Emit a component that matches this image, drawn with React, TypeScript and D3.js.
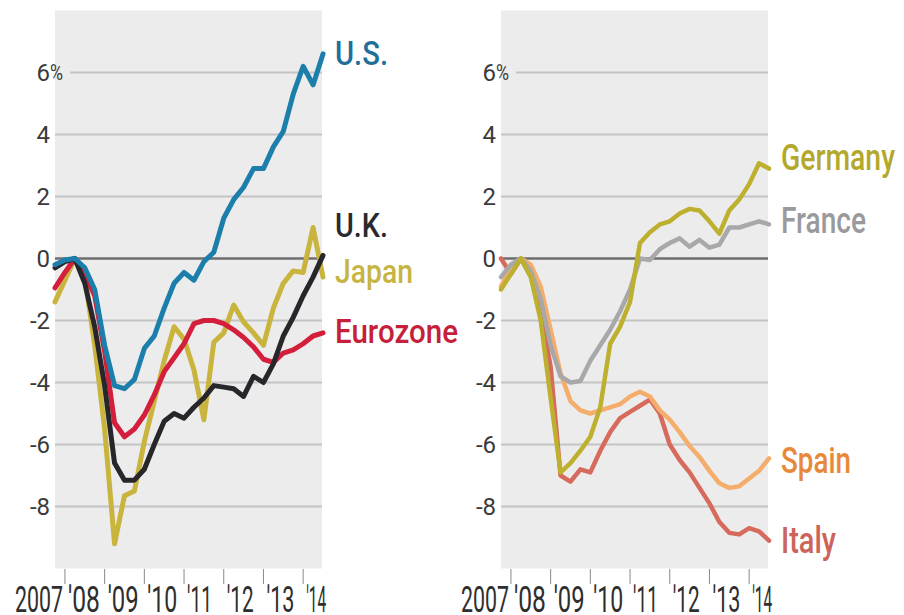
import React from "react";
import * as d3 from "d3";

const quarters = ["2007Q4","2008Q1","2008Q2","2008Q3","2008Q4","2009Q1","2009Q2","2009Q3","2009Q4","2010Q1","2010Q2","2010Q3","2010Q4","2011Q1","2011Q2","2011Q3","2011Q4","2012Q1","2012Q2","2012Q3","2012Q4","2013Q1","2013Q2","2013Q3","2013Q4","2014Q1","2014Q2","2014Q3"];

const usValues = [-0.2, -0.05, 0, -0.3, -1.0, -2.8, -4.1, -4.2, -3.9, -2.9, -2.5, -1.6, -0.8, -0.45, -0.7, -0.1, 0.2, 1.3, 1.9, 2.3, 2.9, 2.9, 3.6, 4.1, 5.3, 6.2, 5.6, 6.6];
const ukValues = [-0.3, -0.1, 0, -0.8, -2.2, -4.1, -6.6, -7.15, -7.15, -6.8, -6.0, -5.25, -5.0, -5.15, -4.8, -4.5, -4.1, -4.15, -4.2, -4.45, -3.8, -4.0, -3.4, -2.5, -1.9, -1.2, -0.6, 0.1];
const japanValues = [-1.4, -0.7, 0, -0.6, -2.8, -5.5, -9.2, -7.65, -7.5, -5.9, -4.6, -3.3, -2.2, -2.6, -3.6, -5.2, -2.7, -2.4, -1.5, -2.05, -2.4, -2.8, -1.6, -0.8, -0.4, -0.45, 1.0, -0.6];
const euroValues = [-0.95, -0.45, 0, -0.5, -1.2, -3.0, -5.3, -5.75, -5.5, -5.05, -4.4, -3.65, -3.2, -2.75, -2.1, -2.0, -2.0, -2.1, -2.3, -2.55, -2.85, -3.25, -3.35, -3.05, -2.95, -2.75, -2.5, -2.4];

const germanyValues = [-1.0, -0.5, 0, -0.6, -2.0, -4.5, -6.9, -6.6, -6.2, -5.75, -4.8, -2.75, -2.2, -1.4, 0.5, 0.85, 1.1, 1.2, 1.45, 1.6, 1.55, 1.2, 0.8, 1.55, 1.9, 2.4, 3.07, 2.9];
const franceValues = [-0.6, -0.2, 0, -0.4, -1.3, -2.8, -3.8, -4.0, -3.95, -3.3, -2.8, -2.3, -1.7, -1.0, 0, -0.05, 0.3, 0.5, 0.65, 0.38, 0.6, 0.35, 0.45, 1.0, 1.0, 1.1, 1.2, 1.1];
const spainValues = [-0.9, -0.3, 0, -0.2, -0.9, -2.3, -3.7, -4.6, -4.9, -5.0, -4.9, -4.8, -4.7, -4.45, -4.3, -4.45, -4.9, -5.2, -5.6, -6.05, -6.4, -6.85, -7.25, -7.4, -7.35, -7.1, -6.85, -6.45];
const italyValues = [0, -0.5, 0, -0.55, -1.7, -3.5, -7.0, -7.2, -6.8, -6.9, -6.2, -5.6, -5.15, -4.95, -4.75, -4.55, -5.0, -6.0, -6.5, -6.9, -7.4, -7.9, -8.5, -8.85, -8.9, -8.7, -8.8, -9.1];

const yTicks = [6, 4, 2, 0, -2, -4, -6, -8];
const yearTicks = [2008, 2009, 2010, 2011, 2012, 2013, 2014];
const yearLabels = ["'08", "'09", "'10", "'11", "'12", "'13", "'14"];
const firstYearLabel = "2007";

type Series = { name: string; values: number[]; color: string; labelColor: string; labelY: number; labelW: number };

const leftSeries: Series[] = [
  { name: "Japan", values: japanValues, color: "#c9b43e", labelColor: "#c6b443", labelY: 283, labelW: 78 },
  { name: "Eurozone", values: euroValues, color: "#d41f3c", labelColor: "#c61f3a", labelY: 343, labelW: 123 },
  { name: "U.K.", values: ukValues, color: "#26262b", labelColor: "#2a2a2e", labelY: 237, labelW: 53 },
  { name: "U.S.", values: usValues, color: "#1c7eab", labelColor: "#1f6f98", labelY: 65, labelW: 53 },
];

const rightSeries: Series[] = [
  { name: "Italy", values: italyValues, color: "#d66a5c", labelColor: "#cc645a", labelY: 553, labelW: 55 },
  { name: "Spain", values: spainValues, color: "#f4ad6a", labelColor: "#e8893a", labelY: 473, labelW: 70 },
  { name: "France", values: franceValues, color: "#a8a8aa", labelColor: "#9a9a9c", labelY: 233, labelW: 85 },
  { name: "Germany", values: germanyValues, color: "#bdb02e", labelColor: "#b4a82c", labelY: 170, labelW: 114 },
];

const xLabelWidths = [32, 31, 30, 25, 27, 28, 20];

function qToT(q: string) {
  const y = +q.slice(0, 4);
  const n = +q.slice(5);
  return y + (n - 1) * 0.25;
}

const times = quarters.map(qToT);

const x = d3.scaleLinear().domain([2007.75, 2014.5]).range([55, 323]);
const y = d3.scaleLinear().domain([-10, 8]).range([568.5, 10.5]);

const FONT = "Roboto, 'Open Sans', sans-serif";

function Panel({ dx, series, lineW, labelSize }: { dx: number; series: Series[]; lineW: number; labelSize: number }) {
  const line = d3
    .line<number>()
    .x((_, i) => x(times[i]))
    .y((v) => y(v))
    .curve(d3.curveLinear);
  const [x0, x1] = x.range();
  return (
    <g transform={`translate(${dx},0)`}>
      <rect x={x0} y={y(8)} width={x1 - x0 - 1} height={y(-10) - y(8)} fill="#ececec" />
      {yTicks.map((t) => (
        <g key={t}>
          <line
            x1={t === 6 ? x0 + 15 : x0}
            x2={x1 - 1}
            y1={y(t)}
            y2={y(t)}
            stroke={t === 0 ? "#6e6e6e" : "#c4c4c4"}
            strokeWidth={t === 0 ? 2.5 : 2}
          />
          <text x={x0 - 5} y={y(t)} dy="0.36em" textAnchor="end" fontSize={24} fill="#3a3a3a" fontFamily={FONT}>
            {t < 0 ? "-" + Math.abs(t) : String(t)}
          </text>
          {t === 6 && (
            <text x={x0 - 5} y={y(t)} dy="0.36em" fontSize={22} fill="#3a3a3a" fontFamily={FONT} textLength={13} lengthAdjust="spacingAndGlyphs">
              %
            </text>
          )}
        </g>
      ))}
      {yearTicks.map((yr, i) => (
        <g key={yr}>
          <line x1={x(yr)} x2={x(yr)} y1={569} y2={584} stroke="#8a8a8a" strokeWidth={1} />
          <text
            x={x(yr) + 3}
            y={612}
            fontSize={37}
            fill="#2e2e2e"
            fontFamily={FONT}
            textLength={xLabelWidths[i]}
            lengthAdjust="spacingAndGlyphs"
          >
            {yearLabels[i]}
          </text>
        </g>
      ))}
      <text
        x={x(2008) - 50}
        y={612}
        fontSize={37}
        fill="#2e2e2e"
        fontFamily={FONT}
        textLength={48}
        lengthAdjust="spacingAndGlyphs"
      >
        {firstYearLabel}
      </text>
      {series.map((s) => (
        <path
          key={s.name}
          d={line(s.values) || ""}
          fill="none"
          stroke={s.color}
          strokeWidth={lineW}
          strokeLinejoin="round"
          strokeLinecap="round"
        />
      ))}
      {series.map((s) => (
        <text
          key={s.name + "-l"}
          x={x1 + 12}
          y={s.labelY}
          fontSize={labelSize}
          fill={s.labelColor}
          fontFamily={FONT}
          fontWeight={500}
          textLength={s.labelW}
          lengthAdjust="spacingAndGlyphs"
        >
          {s.name}
        </text>
      ))}
    </g>
  );
}

export default function App() {
  return (
    <svg
      width={904}
      height={615}
      style={{ position: "absolute", left: 0, top: 0, display: "block", background: "#fff" }}
    >
      <Panel dx={0} series={leftSeries} lineW={5} labelSize={33} />
      <Panel dx={446} series={rightSeries} lineW={4.5} labelSize={37} />
    </svg>
  );
}
